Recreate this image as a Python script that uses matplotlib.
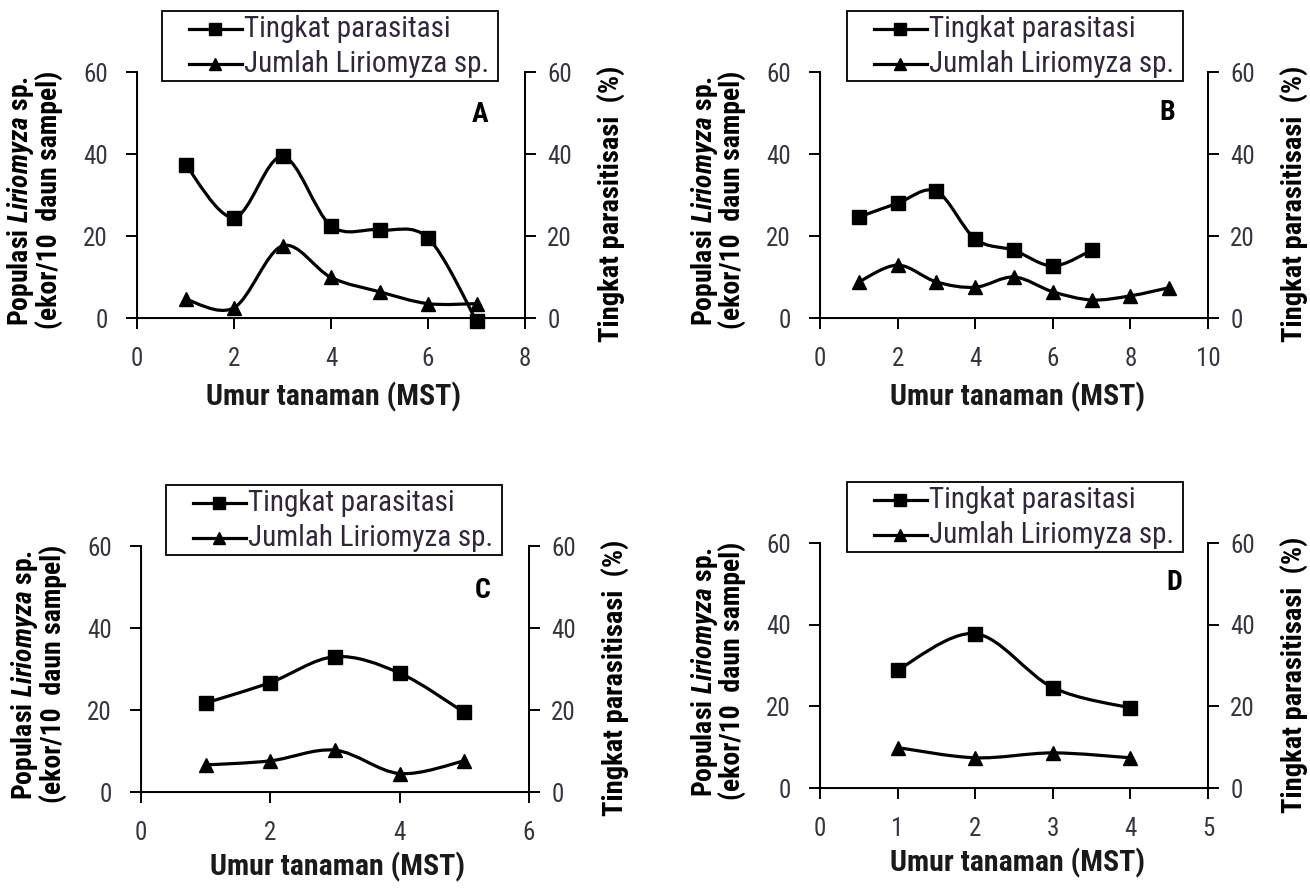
import numpy as np
import matplotlib
matplotlib.use("Agg")
import matplotlib.pyplot as plt
from matplotlib.path import Path
from matplotlib.patches import PathPatch, Rectangle
from matplotlib.lines import Line2D

plt.rcParams['font.family'] = ['Roboto Condensed', 'Liberation Sans', 'DejaVu Sans']
plt.rcParams['mathtext.fontset'] = 'custom'
plt.rcParams['mathtext.rm'] = 'Roboto Condensed:bold'
plt.rcParams['mathtext.it'] = 'Roboto Condensed:italic:bold'
plt.rcParams['mathtext.bf'] = 'Roboto Condensed:bold'

# data: Tingkat parasitasi (square), Jumlah Liriomyza sp. (triangle)
a_x_par = [1, 2, 3, 4, 5, 6, 7]
a_par = [37.4, 24.5, 39.4, 22.5, 21.5, 19.5, -0.7]
a_x_jml = [1, 2, 3, 4, 5, 6, 7]
a_jml = [4.6, 2.5, 17.6, 9.9, 6.4, 3.5, 3.5]

b_x_par = [1, 2, 3, 4, 5, 6, 7]
b_par = [24.6, 28.0, 30.9, 19.3, 16.5, 12.7, 16.5]
b_x_jml = [1, 2, 3, 4, 5, 6, 7, 8, 9]
b_jml = [8.8, 12.9, 8.8, 7.5, 10.0, 6.4, 4.4, 5.4, 7.4]

c_x_par = [1, 2, 3, 4, 5]
c_par = [21.7, 26.7, 33.0, 29.0, 19.4]
c_x_jml = [1, 2, 3, 4, 5]
c_jml = [6.6, 7.6, 10.2, 4.5, 7.6]

d_x_par = [1, 2, 3, 4]
d_par = [28.9, 37.8, 24.6, 19.6]
d_x_jml = [1, 2, 3, 4]
d_jml = [9.9, 7.4, 8.6, 7.4]

x_max = {'A': 8, 'B': 10, 'C': 6, 'D': 5}
x_step = {'A': 2, 'B': 2, 'C': 2, 'D': 1}
y_ticks = [0, 20, 40, 60]
legend_labels = ['Tingkat parasitasi', 'Jumlah Liriomyza sp.']

W, H = 1310, 888
fig = plt.figure(figsize=(W / 100, H / 100), dpi=100)
TICK_C = '#38343f'


def fx(px):
    return px / W


def fy(py):
    return 1 - py / H


def smooth(ax, x, y):
    # excel-like smoothed line: cubic bezier through the points
    pts = np.column_stack([x, y]).astype(float)
    n = len(pts)
    verts = [pts[0]]
    codes = [Path.MOVETO]
    for i in range(n - 1):
        p0 = pts[i - 1] if i > 0 else pts[i]
        p1 = pts[i]
        p2 = pts[i + 1]
        p3 = pts[i + 2] if i + 2 < n else pts[i + 1]
        verts += [p1 + (p2 - p0) / 6, p2 - (p3 - p1) / 6, p2]
        codes += [Path.CURVE4] * 3
    patch = PathPatch(Path(verts, codes), fill=False, lw=2.3, ec='black',
                      transform=ax.transData, clip_on=False, zorder=3)
    ax.add_patch(patch)


def legend_box(x0, top):
    fig.patches.append(Rectangle((fx(x0), fy(top + 70)), fx(336), 70 / H,
                                 transform=fig.transFigure, fill=True, fc='white',
                                 ec='black', lw=1.3, zorder=5))
    for k, (mk, lab) in enumerate(zip(['s', '^'], legend_labels)):
        yy = fy(top + 18 + 35 * k)
        fig.add_artist(Line2D([fx(x0 + 27), fx(x0 + 80)], [yy, yy], color='black',
                              lw=2.3, zorder=6))
        fig.add_artist(Line2D([fx(x0 + 53)], [yy], color='black', marker=mk,
                              ms=8, zorder=6))
        fig.text(fx(x0 + 82), yy, lab, fontsize=21, ha='left', va='center',
                 color='#302838', zorder=7)


def panel(key, left, right, top, bottom, xp, yp, xj, yj, lx, let_dx, let_dy, xl_dy):
    ax = fig.add_axes([fx(left), fy(bottom), fx(right) - fx(left), fy(top) - fy(bottom)])
    ax.set_xlim(0, x_max[key])
    ax.set_ylim(0, 60)
    ax.set_xticks(np.arange(0, x_max[key] + 1, x_step[key]))
    ax.set_yticks(y_ticks)
    ax.spines['top'].set_visible(False)
    for s in ['left', 'right', 'bottom']:
        ax.spines[s].set_linewidth(1.4)
    ax.tick_params(direction='out', length=8, width=1.4, labelsize=18,
                   labelcolor=TICK_C)
    ax.tick_params(axis='y', pad=13)
    ax.tick_params(axis='x', pad=13)
    smooth(ax, xp, yp)
    smooth(ax, xj, yj)
    ax.plot(xp, yp, ls='none', marker='s', ms=10, color='black', clip_on=False, zorder=4)
    ax.plot(xj, yj, ls='none', marker='^', ms=9.5, color='black', clip_on=False, zorder=4)
    ax2 = ax.twinx()
    ax2.set_ylim(0, 60)
    ax2.set_yticks(y_ticks)
    ax2.spines['top'].set_visible(False)
    ax2.spines['right'].set_linewidth(1.4)
    ax2.tick_params(direction='out', length=8, width=1.4, labelsize=18,
                    labelcolor=TICK_C, pad=8)

    legend_box(lx, top - 61)

    fig.text(fx(left + let_dx), fy(top + let_dy), key, fontsize=20, fontweight='bold',
             ha='center', va='center')
    cx = (left + right) / 2
    fig.text(fx(cx + 3), fy(bottom + xl_dy), 'Umur tanaman (MST)', fontsize=21.5,
             fontweight='bold', ha='center', va='center', color='#1a1a1a')
    cy = (top + bottom) / 2
    fig.text(fx(left - 116), fy(cy + 6), r'$\mathrm{Populasi\ }\mathit{Liriomyza}\mathrm{\ sp.}$',
             fontsize=20, rotation=90, ha='center', va='center')
    fig.text(fx(left - 88), fy(cy + 5), '(ekor/10  daun sampel)', fontsize=20,
             fontweight='bold', rotation=90, ha='center', va='center')
    fig.text(fx(right + 86), fy(cy + 9), 'Tingkat parasitisasi  (%)', fontsize=20.5,
             fontweight='bold', rotation=90, ha='center', va='center')
    return ax


panel('A', 137, 525, 72, 318, a_x_par, a_par, a_x_jml, a_jml, 162, 343, 43, 79)
panel('B', 820, 1208, 72, 318, b_x_par, b_par, b_x_jml, b_jml, 847, 347, 40, 79)
panel('C', 141, 529, 546, 792, c_x_par, c_par, c_x_jml, c_jml, 166, 342, 44, 75)
panel('D', 820, 1208, 543, 788, d_x_par, d_par, d_x_jml, d_jml, 847, 354, 40, 75)

fig.savefig('out.png', dpi=100, facecolor='white')
